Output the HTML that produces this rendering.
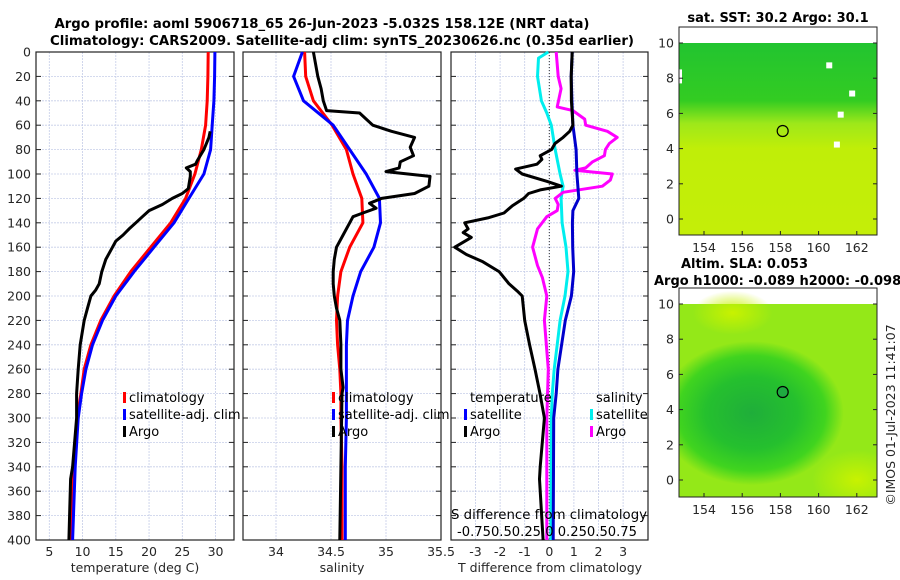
<!DOCTYPE html>
<html><head><meta charset="utf-8">
<style>
body{margin:0;background:#fff;}
svg{display:block;font-family:"DejaVu Sans","Liberation Sans",sans-serif;}
.tk{font-size:12.5px;fill:#262626;}
.ttl{font-size:13px;font-weight:bold;fill:#000;}
.lg{font-size:13px;fill:#000;}
</style></head>
<body>
<svg id="chart" width="900" height="580" viewBox="0 0 900 580" xmlns="http://www.w3.org/2000/svg">
<defs>
<radialGradient id="blob" cx="0.5" cy="0.5" r="0.5">
<stop offset="0" stop-color="#1fae3a"/><stop offset="0.5" stop-color="#25c02e"/><stop offset="0.8" stop-color="#40d41f"/><stop offset="1" stop-color="#40d41f" stop-opacity="0"/>
</radialGradient>
<radialGradient id="lite" cx="0.5" cy="0.5" r="0.5">
<stop offset="0" stop-color="#c8f200"/><stop offset="1" stop-color="#c8f200" stop-opacity="0"/>
</radialGradient>
<linearGradient id="sstg" x1="0" y1="0" x2="0" y2="1">
<stop offset="0" stop-color="#22c430"/><stop offset="0.3" stop-color="#33cc22"/><stop offset="0.42" stop-color="#9ee81a"/><stop offset="0.55" stop-color="#c0ee08"/><stop offset="1" stop-color="#c4ee08"/>
</linearGradient>
<clipPath id="clip1"><rect x="679" y="27" width="198" height="208"/></clipPath>
<clipPath id="clip2"><rect x="679" y="288" width="198" height="209"/></clipPath>
</defs>
<text class="ttl" x="322" y="28" text-anchor="middle" textLength="535" lengthAdjust="spacingAndGlyphs">Argo profile: aoml 5906718_65 26-Jun-2023 -5.032S 158.12E (NRT data)</text>
<text class="ttl" x="342" y="45" text-anchor="middle" textLength="584" lengthAdjust="spacingAndGlyphs">Climatology: CARS2009. Satellite-adj clim: synTS_20230626.nc (0.35d earlier)</text>
<g id="g"></g>
</svg>
<script>
// depth levels (m)
const depthClim = [0,20,40,60,80,100,120,140,160,180,200,220,240,260,280,300,340,400];
const tempClim  = [28.9,28.85,28.75,28.5,27.85,26.9,25.5,23.25,20.25,17.25,14.75,12.75,11.25,10.25,9.75,9.2,8.7,8.26];
const tempSat   = [29.9,29.85,29.75,29.5,29.25,28.25,26,23.75,20.75,17.75,15,13,11.5,10.5,9.85,9.35,8.9,8.5];
const salClim   = [34.26,34.27,34.34,34.51,34.64,34.7,34.78,34.79,34.67,34.59,34.56,34.55,34.56,34.58,34.59,34.59,34.6,34.6];
const salSat    = [34.24,34.16,34.25,34.52,34.67,34.82,34.94,34.95,34.89,34.77,34.7,34.65,34.64,34.64,34.64,34.64,34.63,34.63];

const depthArgoT = [65,70,80,89,92,95,98,102,112,116,120,125,130,135,140,145,150,155,160,170,180,190,195,200,210,220,240,260,280,300,340,350,400];
const tempArgo   = [29.2,29,28.25,27.25,27,25.6,26.2,26.2,25.9,25,23.5,22,20,19,18,17,16.1,15,14.5,13.5,12.9,12.5,12,11.25,10.75,10.25,9.65,9.35,9.1,9.1,8.5,8.2,7.95];

const depthArgoS = [0,20,30,40,48,50,55,60,65,70,78,85,90,95,98,102,110,116,120,124,128,132,135,140,150,160,170,180,190,200,210,220,240,260,275,280,400];
const salArgo    = [34.34,34.38,34.41,34.43,34.46,34.76,34.82,34.88,35.05,35.26,35.22,35.25,35.13,35.12,35.0,35.4,35.39,35.26,34.96,34.85,34.91,34.79,34.7,34.67,34.61,34.55,34.53,34.52,34.52,34.53,34.55,34.58,34.59,34.59,34.61,34.6,34.58];

const depthTD = [0,20,40,60,65,70,75,80,85,88,92,96,100,106,110,113,116,120,126,132,136,140,145,148,152,160,166,172,180,190,196,200,220,240,260,280,300,340,350,400];
const tdArgo  = [0.93,0.89,0.9,0.96,0.83,0.56,0.23,0.09,-0.37,-0.3,-0.5,-1.37,-1.1,-0.1,0.49,-0.37,-0.84,-1.04,-1.5,-1.84,-2.5,-3.44,-3.3,-3.5,-3.17,-3.84,-3.37,-2.7,-2.04,-1.64,-1.3,-1.1,-1.0,-0.8,-0.58,-0.38,-0.2,-0.37,-0.4,-0.25];
const depthTS = [0,20,40,60,80,100,120,130,140,160,180,200,220,240,260,280,300,400];
const tdSat   = [0.93,0.89,0.92,0.96,1.09,1.12,1.2,0.96,0.94,0.95,0.99,0.9,0.65,0.5,0.35,0.28,0.18,0.16];
const depthSS = [0,5,20,40,50,60,80,100,110,120,140,160,180,200,220,240,260,280,300,400];
const sdSat   = [-0.01,-0.11,-0.12,-0.08,-0.025,0.02,0.06,0.11,0.14,0.12,0.13,0.17,0.19,0.16,0.11,0.08,0.05,0.03,0.02,0.015];
const depthSA = [0,20,30,45,48,55,60,65,70,75,80,85,90,95,97,100,105,110,115,120,125,130,135,145,160,175,185,200,220,260,300,400];
const sdArgo  = [0.07,0.09,0.12,0.08,0.24,0.36,0.37,0.59,0.69,0.61,0.57,0.56,0.44,0.37,0.26,0.64,0.62,0.54,0.14,0.06,0.09,0.08,-0.025,-0.12,-0.17,-0.12,-0.07,-0.025,-0.05,-0.01,-0.025,-0.025];

const depthTicks = [0,20,40,60,80,100,120,140,160,180,200,220,240,260,280,300,320,340,360,380,400];
const tTicks = [5,10,15,20,25,30];
const sTicks = [34,34.5,35,35.5];
const tdTicks = [-3,-2,-1,0,1,2,3];
const latTicks = [0,2,4,6,8,10];
const lonTicks = [154,156,158,160,162];

const NS="http://www.w3.org/2000/svg";
const G=document.getElementById('g');
function mk(tag,attrs,parent){const e=document.createElementNS(NS,tag);for(const k in attrs)e.setAttribute(k,attrs[k]);(parent||G).appendChild(e);return e;}
const yD=d=>52+d*1.22;
const xT=t=>49.3+(t-5)*6.65;
const xS=s=>276+(s-34)*110;
const xD=t=>549.3+t*24.6;
const xSD=s=>xD(s*4);
const panels=[{l:36,r:234,name:'temperature-panel'},{l:243,r:441,name:'salinity-panel'},{l:451,r:648,name:'difference-panel'}];
const T=52,B=540;

panels.forEach((p,i)=>{
  const grp=mk('g',{});
  
  
  depthTicks.forEach(d=>{const ln=mk('line',{x1:p.l,x2:p.r,y1:yD(d),y2:yD(d),stroke:'#c5cde8','stroke-width':0.8,'stroke-dasharray':'2,1'},grp);
    
    });
  const vt = i==0?tTicks.map(xT):i==1?sTicks.slice(0,3).map(xS):tdTicks.map(xD);
  vt.forEach(x=>{const ln=mk('line',{x1:x,x2:x,y1:T,y2:B,stroke:'#c5cde8','stroke-width':0.8,'stroke-dasharray':'2,1'},grp);
    
    });
  depthTicks.forEach(d=>{mk('line',{x1:p.l,x2:p.l+5,y1:yD(d),y2:yD(d),stroke:'#222'},grp);mk('line',{x1:p.r-5,x2:p.r,y1:yD(d),y2:yD(d),stroke:'#222'},grp);});
  const fr=mk('rect',{x:p.l,y:T,width:p.r-p.l,height:B-T,fill:'none',stroke:'#222','stroke-width':1.2},grp);
  
  
});
depthTicks.forEach(d=>{const t=mk('text',{x:31,y:yD(d)+4.5,'text-anchor':'end',class:'tk'});t.textContent=d;
  
  });
function xlabels(ticks,fx){ticks.forEach(v=>{const t=mk('text',{x:fx(v),y:556,'text-anchor':'middle',class:'tk'});t.textContent=v;
  
  });}
xlabels(tTicks,xT);xlabels(sTicks,xS);xlabels(tdTicks,xD);
[[135,'temperature (deg C)'],[342,'salinity'],[550,'T difference from climatology']].forEach(a=>{const t=mk('text',{x:a[0],y:572,'text-anchor':'middle',class:'tk'});t.textContent=a[1];
  
  });
const zl=mk('line',{x1:xD(0),x2:xD(0),y1:T,y2:B,stroke:'#333','stroke-width':1,'stroke-dasharray':'1,2'});



function series(ds,vs,fx,color,name){
  const pts=ds.map((d,i)=>fx(vs[i]).toFixed(1)+','+yD(d).toFixed(1)).join(' ');
  const pl=mk('polyline',{points:pts,fill:'none',stroke:color,'stroke-width':3,'stroke-linejoin':'round'});
  
  
}
series(depthClim,tempClim,xT,'#ff0000','temp-climatology-line');
series(depthClim,tempSat,xT,'#0000ff','temp-satellite-line');
series(depthArgoT,tempArgo,xT,'#000','temp-argo-line');
series(depthClim,salClim,xS,'#ff0000','sal-climatology-line');
series(depthClim,salSat,xS,'#0000ff','sal-satellite-line');
series(depthArgoS,salArgo,xS,'#000','sal-argo-line');
series(depthSS,sdSat,xSD,'#00eeee','sdiff-satellite-line');
series(depthSA,sdArgo,xSD,'#ff00ff','sdiff-argo-line');
series(depthTS,tdSat,xD,'#0000cc','tdiff-satellite-line');
series(depthTD,tdArgo,xD,'#000','tdiff-argo-line');

function legend(x,y,color,label){
  if(color){mk('rect',{x:x-6,y:y-8,width:3,height:11,fill:color});}
  const t=mk('text',{x:x,y:y+2,class:'lg'});t.textContent=label;
  
  
}
legend(129,400,'#ff0000','climatology');legend(129,417,'#0000ff','satellite-adj. clim');legend(129,434,'#000','Argo');
legend(338,400,'#ff0000','climatology');legend(338,417,'#0000ff','satellite-adj. clim');legend(338,434,'#000','Argo');
legend(470,400,null,'temperature');legend(470,417,'#0000ff','satellite');legend(470,434,'#000','Argo');
legend(596,400,null,'salinity');legend(596,417,'#00eeee','satellite');legend(596,434,'#ff00ff','Argo');
{const t=mk('text',{x:549,y:519,'text-anchor':'middle',class:'lg',textLength:196,lengthAdjust:'spacingAndGlyphs'});t.textContent='S difference from climatology';


const u=mk('text',{x:547,y:536,'text-anchor':'middle',class:'lg',textLength:180,lengthAdjust:'spacingAndGlyphs'});u.textContent='-0.750.50.25 0 0.250.50.75';

}

// maps
const lonX=v=>704+(v-154)*19.1;
function map(top,bot,y10,y0,kind,name){
  const g=mk('g',{});
  
  
  const latY=v=>y0+(y10-y0)*v/10;
  const cg=mk('g',{'clip-path':kind?'url(#clip2)':'url(#clip1)'},g);
  if(kind==0){mk('rect',{x:679,y:y10,width:198,height:bot-y10,fill:'url(#sstg)'},cg);
    [[160.4,8.9],[161.6,7.3],[161,6.1],[160.8,4.4]].forEach(c=>mk('rect',{x:lonX(c[0]),y:latY(c[1]),width:6,height:6,fill:'#fff'},cg));
    mk('rect',{x:679,y:latY(8.5),width:3,height:14,fill:'#fff'},cg);
  } else {mk('rect',{x:679,y:y10,width:198,height:bot-y10,fill:'#94e818'},cg);
    mk('ellipse',{cx:lonX(155.5),cy:latY(9.5),rx:40,ry:22,fill:'url(#lite)'},cg);
    mk('ellipse',{cx:lonX(162),cy:latY(0),rx:45,ry:30,fill:'url(#lite)'},cg);
    mk('ellipse',{cx:lonX(156.5),cy:latY(3.8),rx:92,ry:72,fill:'url(#blob)'},cg);}
  const c=mk('circle',{cx:lonX(158.12),cy:latY(5),r:5.5,fill:kind? '#1faa40':'none',stroke:'#000','stroke-width':1.2},g);
  
  
  mk('rect',{x:679,y:top,width:198,height:bot-top,fill:'none',stroke:'#222','stroke-width':1},g);
  latTicks.forEach(v=>{mk('line',{x1:679,x2:683,y1:latY(v),y2:latY(v),stroke:'#222'},g);mk('line',{x1:873,x2:877,y1:latY(v),y2:latY(v),stroke:'#222'},g);
    const t=mk('text',{x:674,y:latY(v)+4.5,'text-anchor':'end',class:'tk'},g);t.textContent=v;
    
    });
  lonTicks.forEach(v=>{mk('line',{x1:lonX(v),x2:lonX(v),y1:bot-4,y2:bot,stroke:'#222'},g);
    const t=mk('text',{x:lonX(v),y:bot+17,'text-anchor':'middle',class:'tk'},g);t.textContent=v;
    
    });
}
map(27,235,43,219,0,'sst-map');
map(288,497,304,480,1,'sla-map');
[[778,22,'sat. SST: 30.2 Argo: 30.1','middle'],[681,268,'Altim. SLA: 0.053','start'],[654,285,'Argo h1000: -0.089 h2000: -0.098','start']].forEach(a=>{
  const t=mk('text',{x:a[0],y:a[1],'text-anchor':a[3],class:'ttl'});t.textContent=a[2];
  
  });
{const t=mk('text',{x:0,y:0,'text-anchor':'middle',class:'tk',transform:'translate(895,415) rotate(-90)'});t.textContent='©IMOS 01-Jul-2023 11:41:07';

}
</script>
</body></html>
